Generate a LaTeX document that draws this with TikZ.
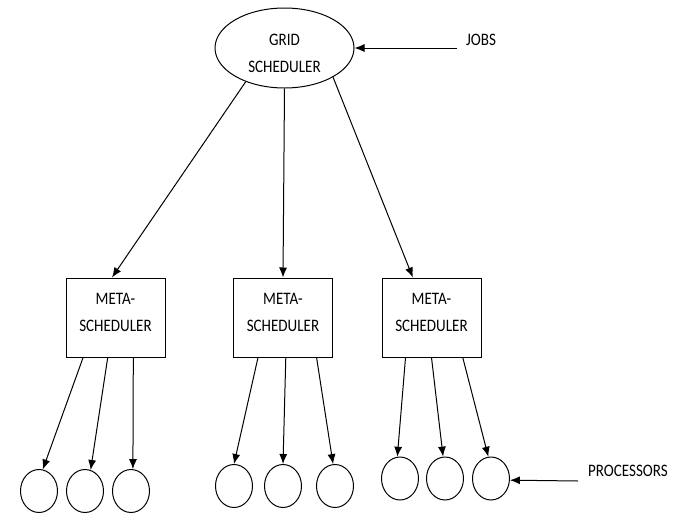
\documentclass[tikz,border=0pt]{standalone}
\usepackage{fontspec}
\setmainfont{Carlito}[FakeStretch=0.86]
\usetikzlibrary{arrows.meta, shapes.geometric}

\begin{document}
\begin{tikzpicture}[
        x=1pt, y=-1pt,
        every node/.style={font=\fontsize{17.5}{27}\selectfont},
        grid/.style={ellipse, draw, line width=1pt, minimum width=139pt, minimum height=80pt, inner sep=0pt, align=center, text height=50pt},
        meta/.style={rectangle, draw, line width=1pt, minimum width=99pt, minimum height=79pt, inner sep=0pt, align=center, text depth=10pt},
        proc/.style={ellipse, draw, line width=1pt, minimum width=37pt, minimum height=43pt, inner sep=0pt},
        label/.style={inner sep=0pt},
        arrow/.style={-{Latex[length=10pt, width=8pt]}, line width=1pt},
        ]
    \useasboundingbox (0,0) rectangle (683,512);

        % Nodes
        \node[grid] (GridScheduler) at (284.5,48) {GRID\\SCHEDULER};
        \node[label] (Jobs) at (481,40) {JOBS};
        \coordinate (JobsIn) at (457,48);

        \node[meta] (MetaA) at (115.5,317.5) {META-\\SCHEDULER};
        \node[meta] (MetaB) at (283,317.5) {META-\\SCHEDULER};
        \node[meta] (MetaC) at (431.5,317.5) {META-\\SCHEDULER};

        \node[proc] (ProcA1) at (39,491) {};
        \node[proc] (ProcA2) at (85,491) {};
        \node[proc] (ProcA3) at (131,491) {};
        \node[proc] (ProcB1) at (234,486) {};
        \node[proc] (ProcB2) at (283,486) {};
        \node[proc] (ProcB3) at (335,486) {};
        \node[proc] (ProcC1) at (400,478.5) {};
        \node[proc] (ProcC2) at (445,478.5) {};
        \node[proc] (ProcC3) at (491,478.5) {};

        \node[label] (Processors) at (628,471) {PROCESSORS};
        \coordinate (ProcIn) at (578,481);

        % Arrows
        \draw[arrow] (JobsIn) -- (GridScheduler.east);
        \draw[arrow] (GridScheduler.221) -- (MetaA.95);
        \draw[arrow] (GridScheduler.south) -- (MetaB.north);
        \draw[arrow] (GridScheduler.329) -- (MetaC.115);

        \draw[arrow] (MetaA.231) -- (ProcA1.80);
        \draw[arrow] (MetaA.259) -- (ProcA2.75);
        \draw[arrow] (MetaA.294) -- (ProcA3.85);

        \draw[arrow] (MetaB.238) -- (ProcB1.north);
        \draw[arrow] (MetaB.274) -- (ProcB2.north);
        \draw[arrow] (MetaB.310) -- (ProcB3.95);

        \draw[arrow] (MetaC.237) -- (ProcC1.97);
        \draw[arrow] (MetaC.270) -- (ProcC2.95);
        \draw[arrow] (MetaC.308) -- (ProcC3.97);

        \draw[arrow] (ProcIn) -- (ProcC3.-5);

    \end{tikzpicture}
\end{document}
